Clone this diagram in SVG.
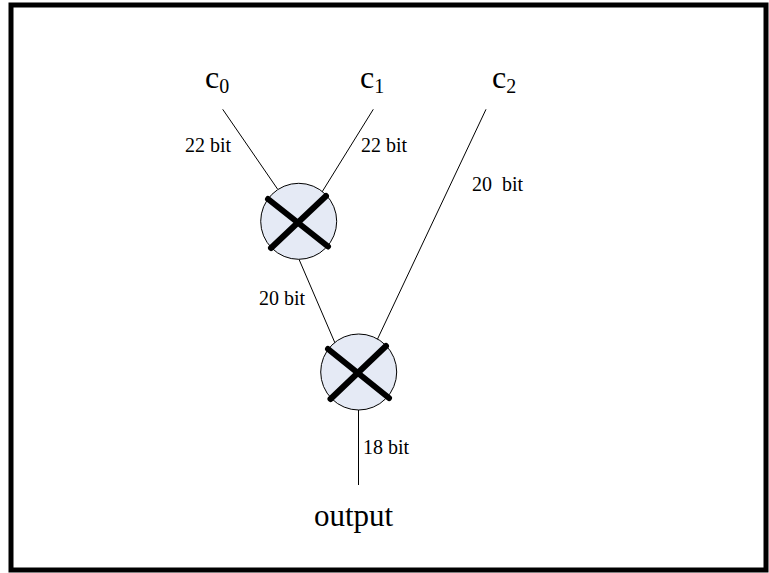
<svg xmlns="http://www.w3.org/2000/svg" width="769" height="573" viewBox="0 0 769 573">
<style>
.t{font-family:"Liberation Serif","Times New Roman",serif;fill:#000}
.lbl{font-size:20px}
.big{font-size:32px}
.out{font-size:31px}
.sub{font-size:20px}
.wire{stroke:#000;stroke-width:1;fill:none}
.mc{fill:#e5eaf5;stroke:#000;stroke-width:1}
.x{stroke:#000;stroke-width:6;stroke-linecap:round}
</style>
<rect x="0" y="0" width="769" height="573" fill="#fff"/>
<rect x="11" y="5" width="755" height="565" fill="#fff" stroke="#000" stroke-width="5"/>
<g id="connectors">
<line class="wire" x1="222.7" y1="109.3" x2="277.5" y2="189"/>
<line class="wire" x1="373.3" y1="109.3" x2="322" y2="192"/>
<line class="wire" x1="486" y1="109.3" x2="377.3" y2="339.5"/>
<line class="wire" x1="299" y1="259.3" x2="335" y2="343"/>
<line class="wire" x1="358.5" y1="410" x2="358.5" y2="485"/>
</g>
<g id="c0"><text class="t big" x="205" y="88">c<tspan class="sub" dy="5">0</tspan></text></g>
<g id="c1"><text class="t big" x="360" y="88">c<tspan class="sub" dy="5">1</tspan></text></g>
<g id="c2"><text class="t big" x="492" y="88">c<tspan class="sub" dy="5">2</tspan></text></g>
<g id="labels">
<text class="t lbl" x="185" y="152">22 bit</text>
<text class="t lbl" x="361" y="152">22 bit</text>
<text class="t lbl" x="472" y="191" xml:space="preserve">20  bit</text>
<text class="t lbl" x="259" y="305">20 bit</text>
<text class="t lbl" x="363" y="454">18 bit</text>
</g>
<g id="mult1">
<circle class="mc" cx="298.7" cy="221.3" r="38"/>
<line class="x" x1="268" y1="199" x2="328" y2="246.5"/>
<line class="x" x1="271" y1="248" x2="326" y2="196"/>
</g>
<g id="mult2">
<circle class="mc" cx="358.7" cy="372" r="38"/>
<line class="x" x1="328" y1="349" x2="389" y2="398"/>
<line class="x" x1="330.5" y1="399" x2="386" y2="346"/>
</g>
<g id="output"><text class="t out" x="314" y="526">output</text></g>
</svg>
